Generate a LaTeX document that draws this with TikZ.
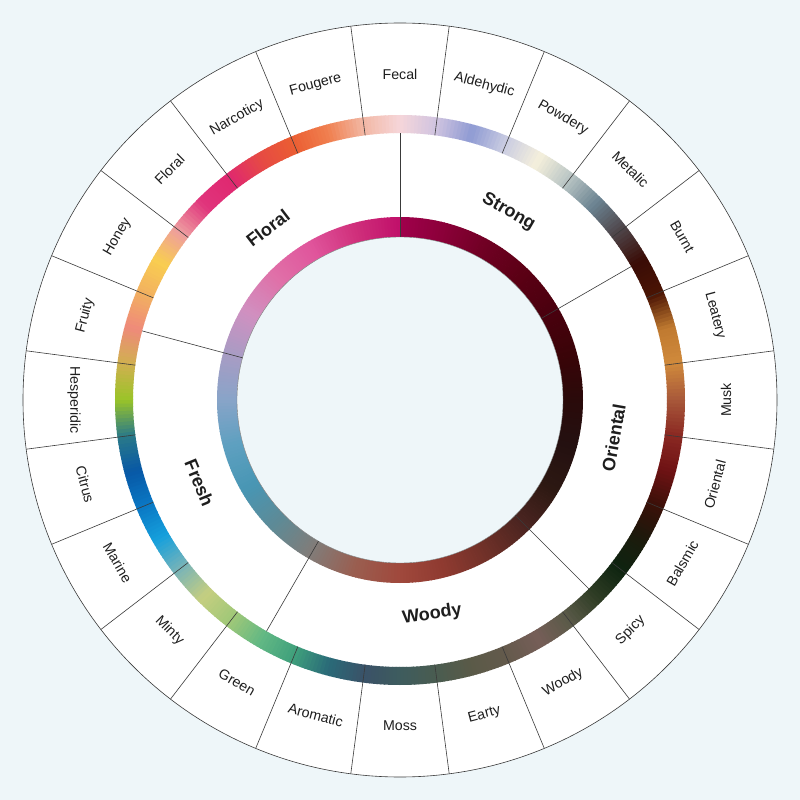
\documentclass[tikz,border=0pt]{standalone}
\usepackage{fontspec}
\setmainfont{Liberation Sans}
\definecolor{paper}{HTML}{EEF6F9}
\definecolor{rule}{HTML}{3A3A3A}
\definecolor{ink}{HTML}{1E1E1E}
\tikzset{
  spoke/.style={rule,line width=0.6pt},
  note/.style={text=ink,font=\fontsize{14.2}{16}\selectfont,inner sep=0pt},
  family/.style={text=ink,font=\bfseries\fontsize{18}{20}\selectfont,inner sep=0pt}
}
\begin{document}
\begin{tikzpicture}[x=1pt,y=1pt]
\fill[paper] (-400,-400) rectangle (400,400);
\useasboundingbox (-400,-400) rectangle (400,400);
\fill[white] (0,0) circle[radius=377];
% outer colour band, keys every 7.5 degrees clockwise from 97.5
\foreach \c [count=\k, remember=\c as \lc (initially F2B8A5)] in {F6D6DA,D0C4E0,8F9BD3,CBCDE2,F5F0DC,B8C4C4,6A8290,4E4448,3A0C06,4A1404,C07A30,D08A3C,A8583A,8A2822,6E1214,3A1008,1C1A0C,0E2410,2E3C24,5A5A48,765E58,645A4C,5A5A48,4A5C50,3E5C5E,3A5268,2A6A78,3FA07C,62B884,A0C878,C5CE80,78B4B8,16A0DC,0A78C4,0858A6,2A7A88,9AC428,D0B050,EF8A7A,F2B060,F9CE50,EE9CA0,E0347C,E02870,E64A44,EB5E32,F08050,F2B8A5} {
  \definecolor{ca}{HTML}{\lc}\definecolor{cb}{HTML}{\c}
  \foreach \j in {0,...,9} {
    \pgfmathsetmacro{\a}{97.5-7.5*(\k-1)-0.75*\j}
    \pgfmathtruncatemacro{\p}{95-10*\j}
    \fill[ca!\p!cb] (\a:267) arc[start angle=\a,end angle=\a-0.95,radius=267]
      -- (\a-0.95:285) arc[start angle=\a-0.95,end angle=\a,radius=285] -- cycle;
  }
}
% inner colour band, keys every 15 degrees clockwise from 90
\foreach \c [count=\k, remember=\c as \lc (initially A0004C)] in {8A0038,6E0022,5A0014,4A000E,3A0408,2A0A0A,241010,2C1812,4A2420,6E3028,8E3A30,A0483C,9A5E50,827C78,5E8A96,4896B4,5EA0C0,88A4C8,A89CC4,D090C0,E070A8,E0559C,D0307C,C0106A} {
  \definecolor{ca}{HTML}{\lc}\definecolor{cb}{HTML}{\c}
  \foreach \j in {0,...,14} {
    \pgfmathsetmacro{\a}{90-15*(\k-1)-\j}
    \pgfmathtruncatemacro{\p}{97-6.667*\j}
    \fill[ca!\p!cb] (\a:163) arc[start angle=\a,end angle=\a-1.2,radius=163]
      -- (\a-1.2:183) arc[start angle=\a-1.2,end angle=\a,radius=183] -- cycle;
  }
}
\filldraw[fill=paper,draw=rule!70,line width=0.4pt] (0,0) circle[radius=163];
\draw[spoke] (0,0) circle[radius=377];
\foreach \k in {0,...,23}
  \draw[spoke] (97.5-15*\k:267) -- (97.5-15*\k:377);
\foreach \a in {90,30,-45,-120,165}
  \draw[spoke] (\a:163) -- (\a:267);
% notes
\foreach \t [count=\k from 0] in {Fecal,Aldehydic,Powdery,Metalic,Burnt,Leatery,Musk,Oriental,Balsmic,Spicy,Woody,Earty,Moss,Aromatic,Green,Minty,Marine,Citrus,Hesperidic,Fruity,Honey,Floral,Narcoticy,Fougere} {
  \pgfmathsetmacro{\a}{90-15*\k}
  \pgfmathsetmacro{\r}{sin(\a)>0.01 ? \a-90 : \a+90}
  \node[note,rotate=\r] (note\k) at (\a:326) {\t};
}
% families
\foreach \t/\a in {Strong/60,Oriental/-10,Woody/-81.5,Fresh/-157.5,Floral/127.5} {
  \pgfmathsetmacro{\r}{sin(\a)>0.01 ? \a-90 : \a+90}
  \node[family,rotate=\r] (fam\t) at (\a:217) {\t};
}
\end{tikzpicture}
\end{document}
